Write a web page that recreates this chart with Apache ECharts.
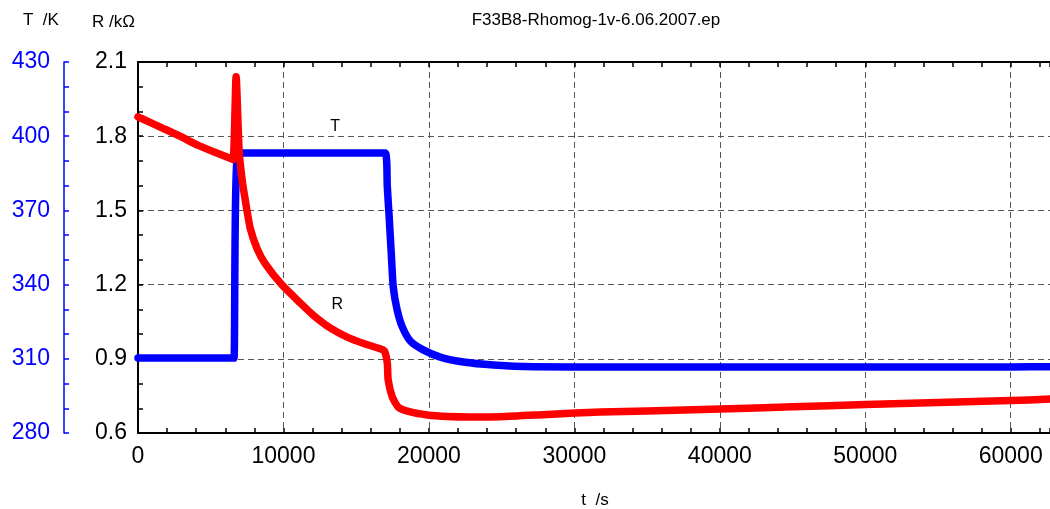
<!DOCTYPE html>
<html>
<head>
<meta charset="utf-8">
<script src="https://cdn.jsdelivr.net/npm/echarts@6/dist/echarts.min.js"></script>
<style>
html,body{margin:0;padding:0;background:#fff;}
#c{width:1050px;height:509px;}
</style>
</head>
<body>
<div id="c"></div>
<script>
// Time (s) and resistance (kOhm)
const timeR = [0, 830, 1720, 2890, 4060, 5200, 6330, 6540, 6745, 6950, 7160, 7430, 7710, 8190, 8740, 9910, 11150, 12040, 13210, 14380, 15620, 16860, 17000, 17140, 17200, 17480, 17890, 18720, 19890, 21270, 22850, 24910, 27500, 30080, 31800, 35000, 40050, 45000, 50030, 55000, 60010, 62700];
const valuesR = [1.878, 1.856, 1.832, 1.800, 1.765, 1.737, 1.711, 1.705, 2.040, 1.744, 1.623, 1.522, 1.429, 1.345, 1.285, 1.198, 1.126, 1.077, 1.025, 0.988, 0.960, 0.936, 0.923, 0.883, 0.814, 0.746, 0.705, 0.685, 0.673, 0.667, 0.665, 0.666, 0.673, 0.681, 0.685, 0.689, 0.697, 0.706, 0.715, 0.723, 0.731, 0.737];
// Time (s) and temperature (K)
const timeT = [0, 3000, 6470, 6600, 6880, 10000, 14000, 17000, 17140, 17280, 17410, 17550, 17820, 18170, 18720, 19610, 20780, 22370, 24430, 27190, 32480, 40000, 50000, 60000, 62700];
const valuesT = [310.3, 310.3, 310.3, 310.3, 393.2, 393.2, 393.2, 393.2, 379.5, 366.1, 352.8, 339.0, 329.7, 322.9, 317.2, 313.6, 310.7, 308.7, 307.5, 306.8, 306.7, 306.7, 306.7, 306.7, 306.8];
// Axis ticks
const xTicks = {min: 0, max: 62700, interval: 10000};
const rTicks = {min: 0.6, max: 2.1, interval: 0.3};
const tTicks = {min: 280, max: 430, interval: 30};

const FONT = 'Liberation Sans, Arial, sans-serif';
const chart = echarts.init(document.getElementById('c'), null, {renderer: 'canvas'});
const dataR = timeR.map((t, i) => [t, valuesR[i]]);
const dataT = timeT.map((t, i) => [t, valuesT[i]]);
const grid = {left: 138, top: 62, right: 0, bottom: 76, containLabel: false};
const dash = {color: '#555', width: 1, type: [6, 4]};

chart.setOption({
  animation: false,
  backgroundColor: '#fff',
  grid: grid,
  xAxis: [
    {type: 'value', position: 'bottom', min: xTicks.min, max: xTicks.max, interval: xTicks.interval,
     axisLine: {show: true, onZero: false, lineStyle: {color: '#000', width: 2}},
     axisTick: {show: true, inside: true, length: 5, lineStyle: {color: '#000', width: 1.5}},
     minorTick: {show: true, splitNumber: 5, length: 5, lineStyle: {color: '#000', width: 1.5}},
     axisLabel: {show: true, margin: 12, color: '#000', fontSize: 23, fontFamily: FONT,
       showMaxLabel: false, formatter: v => String(v)},
     splitLine: {show: true, lineStyle: dash}},
    {type: 'value', position: 'top', min: xTicks.min, max: xTicks.max, interval: xTicks.interval,
     axisLine: {show: true, onZero: false, lineStyle: {color: '#000', width: 2}},
     axisTick: {show: true, inside: true, length: 5, lineStyle: {color: '#000', width: 1.5}},
     minorTick: {show: true, splitNumber: 5, length: 5, lineStyle: {color: '#000', width: 1.5}},
     axisLabel: {show: false}, splitLine: {show: false}}
  ],
  yAxis: [
    {type: 'value', position: 'left', min: rTicks.min, max: rTicks.max, interval: rTicks.interval,
     axisLine: {show: true, onZero: false, lineStyle: {color: '#000', width: 2}},
     axisTick: {show: true, inside: true, length: 5, lineStyle: {color: '#000', width: 1.5}},
     minorTick: {show: true, splitNumber: 3, length: 5, lineStyle: {color: '#000', width: 1.5}},
     axisLabel: {show: true, margin: 11, color: '#000', fontSize: 23, fontFamily: FONT,
       formatter: v => v.toFixed(1)},
     splitLine: {show: true, lineStyle: dash}},
    {type: 'value', position: 'left', offset: 74, min: tTicks.min, max: tTicks.max, interval: tTicks.interval,
     axisLine: {show: true, onZero: false, lineStyle: {color: '#0000ff', width: 1.5}},
     axisTick: {show: true, inside: true, length: 5, lineStyle: {color: '#0000ff', width: 1.5}},
     minorTick: {show: true, splitNumber: 3, length: 5, lineStyle: {color: '#0000ff', width: 1.5}},
     axisLabel: {show: true, margin: 14, color: '#0000ff', fontSize: 23, fontFamily: FONT},
     splitLine: {show: false}}
  ],
  series: [
    {type: 'line', name: 'T', xAxisIndex: 0, yAxisIndex: 1, data: dataT, showSymbol: false, z: 2,
     smooth: 0.2,
     lineStyle: {color: '#0000ff', width: 7.5, join: 'round', cap: 'round'},
     markPoint: {symbol: 'circle', symbolSize: 1, itemStyle: {color: 'rgba(0,0,0,0)'},
       label: {show: true, position: 'inside', formatter: 'T', color: '#000', fontSize: 16, fontFamily: FONT},
       data: [{coord: [13560, 404]}]}},
    {type: 'line', name: 'R', xAxisIndex: 0, yAxisIndex: 0, data: dataR, showSymbol: false, z: 3,
     smooth: 0.2,
     lineStyle: {color: '#ff0000', width: 7.5, join: 'round', cap: 'round'},
     markPoint: {symbol: 'circle', symbolSize: 1, itemStyle: {color: 'rgba(0,0,0,0)'},
       label: {show: true, position: 'inside', formatter: 'R', color: '#000', fontSize: 16, fontFamily: FONT},
       data: [{coord: [13700, 1.118]}]}}
  ],
  graphic: [
    {type: 'text', x: 596, y: 20, style: {text: 'F33B8-Rhomog-1v-6.06.2007.ep', font: '17px ' + FONT, fill: '#000', textAlign: 'center', textVerticalAlign: 'middle'}},
    {type: 'text', x: 23, y: 12, style: {text: 'T  /K', font: '17px ' + FONT, fill: '#000'}},
    {type: 'text', x: 92, y: 14, style: {text: 'R /kΩ', font: '17px ' + FONT, fill: '#000'}},
    {type: 'text', x: 595, y: 500, style: {text: 't  /s', font: '17px ' + FONT, fill: '#000', textAlign: 'center', textVerticalAlign: 'middle'}}
  ]
});
</script>
</body>
</html>
